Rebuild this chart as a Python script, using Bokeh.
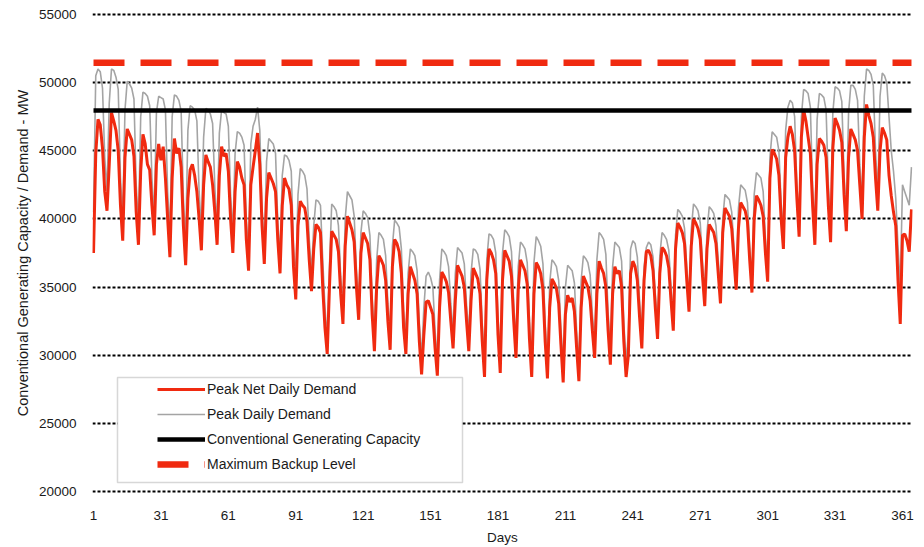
from bokeh.plotting import figure
from bokeh.models import FixedTicker, Legend, LegendItem, BoxAnnotation, Range1d
from bokeh.embed import file_html
from bokeh.resources import INLINE

# ---------------- data ----------------
days = list(range(1, 366))

# Peak net daily demand (MW), one row per week (Mon..Sun)
net_demand = [
    37500, 44800, 47300, 46900, 45200, 42000, 40600,
    44000, 47800, 47200, 46500, 45000, 41000, 38400,
    44500, 46600, 46200, 45800, 44600, 40500, 38100,
    43500, 46200, 45500, 44000, 43600, 41000, 38800,
    44000, 45500, 44300, 45300, 43000, 40000, 37200,
    43000, 45900, 44800, 45200, 43800, 39500, 36600,
    41500, 43600, 44000, 43200, 42000, 40000, 37700,
    42500, 44700, 44200, 43800, 42500, 40500, 38100,
    43200, 45300, 44600, 44800, 43500, 40000, 37500,
    42000, 44200, 43800, 43000, 42500, 38500, 36200,
    42500, 43800, 45000, 46300, 44000, 39500, 36700,
    41500, 43400, 43000, 42600, 42000, 38500, 36000,
    41000, 43000, 42500, 42200, 41000, 36500, 34100,
    39500, 41300, 41000, 40800, 39800, 37000, 34700,
    37800, 39600, 39400, 39000, 35000, 32000, 30100,
    35000, 39100, 38800, 38500, 37600, 34500, 32300,
    38000, 40200, 39700, 39200, 38300, 35000, 32600,
    37500, 39000, 38600, 38200, 37000, 33000, 30300,
    35000, 37300, 37000, 36600, 35500, 32500, 30400,
    36500, 38500, 38200, 37600, 36000, 32000, 30100,
    34500, 36500, 36000, 35500, 34500, 31000, 28600,
    31500, 33900, 34000, 33500, 33000, 30500, 28500,
    33500, 36100, 35800, 35400, 34600, 32500, 30500,
    34000, 36600, 36200, 35800, 35000, 32500, 30300,
    34000, 36400, 36000, 35600, 34500, 31000, 28400,
    35500, 37800, 37500, 37000, 36000, 31500, 28700,
    35500, 37700, 37300, 36900, 35800, 32500, 29800,
    34800, 37000, 36600, 36200, 35200, 31200, 28400,
    34500, 36800, 36500, 36000, 34800, 31000, 28300,
    33500, 35600, 35300, 34900, 33800, 30800, 28000,
    33000, 34400, 33900, 34200, 33200, 30500, 28100,
    33500, 35800, 35400, 35000, 34000, 31800, 29800,
    34500, 36900, 36400, 36000, 35000, 31800, 29300,
    34500, 36500, 36000, 36200, 35000, 31000, 28400,
    30000, 36000, 36900, 36500, 35500, 32800, 30500,
    35500, 37600, 37700, 37300, 36200, 33500, 31200,
    36000, 37900, 37700, 37300, 36400, 34000, 31800,
    37800, 39700, 39400, 39000, 38200, 35500, 33200,
    38000, 40000, 39700, 39300, 38500, 35800, 33600,
    37800, 39600, 39300, 39000, 38200, 36000, 33800,
    39000, 40800, 40500, 40200, 39300, 37000, 34800,
    39300, 41200, 40900, 40600, 39800, 37000, 34600,
    40000, 41700, 41400, 41000, 40200, 37500, 35400,
    43000, 45100, 44800, 44400, 43200, 40000, 37800,
    44500, 46000, 46800, 46200, 45000, 41500, 38700,
    46000, 48000, 47200, 46000, 44800, 41000, 38100,
    44000, 45900, 45700, 45400, 44500, 41000, 38300,
    45200, 47400, 47000, 46500, 45600, 41800, 39100,
    44500, 46600, 46200, 45800, 45000, 42500, 40000,
    46000, 48400, 47600, 47000, 46000, 43000, 40600,
    45000, 46700, 46300, 45800, 43200, 41700, 40500,
    39500, 35500, 32300, 38800, 38900, 38400, 37600,
    40700,
]

# Peak daily demand (MW)
gross_demand = [
    40500, 50500, 51000, 50800, 49600, 44500, 42000,
    48500, 51000, 50900, 50400, 49500, 43000, 40000,
    48000, 50100, 49900, 49600, 48800, 42500, 39500,
    47500, 49300, 49200, 49000, 48300, 43000, 40200,
    47800, 49000, 48900, 48800, 48000, 42000, 38800,
    47500, 49100, 49000, 48700, 47900, 41500, 38200,
    46500, 48300, 48200, 48000, 47200, 42000, 39200,
    46000, 48100, 48000, 47700, 47000, 42300, 39500,
    46300, 48000, 47800, 47700, 46800, 41800, 38900,
    44800, 46400, 46300, 46000, 45400, 40000, 37500,
    45500, 46800, 47300, 48200, 46500, 40800, 38000,
    44200, 45900, 45700, 45500, 44800, 39800, 37300,
    43200, 44700, 44600, 44300, 43500, 38000, 35500,
    41800, 43700, 43500, 43200, 42200, 38500, 36000,
    39500, 41400, 41300, 41000, 37000, 33500, 31300,
    36500, 41100, 40900, 40600, 39500, 35800, 33500,
    40000, 42000, 41700, 41400, 40200, 36300, 33800,
    39000, 40600, 40400, 40100, 38800, 34200, 31500,
    37000, 39000, 38800, 38500, 37300, 33800, 31600,
    38000, 39900, 39700, 39400, 37800, 33300, 31300,
    36000, 37800, 37600, 37300, 36200, 32300, 29800,
    33500, 35800, 36100, 35700, 35000, 31800, 29700,
    35500, 37800, 37600, 37300, 36500, 33800, 31700,
    36000, 37900, 37700, 37500, 36700, 33700, 31500,
    36000, 37800, 37700, 37400, 36300, 32300, 29600,
    37000, 38900, 38800, 38500, 37500, 32800, 29900,
    37500, 39200, 39000, 38700, 37600, 33800, 31000,
    36500, 38300, 38100, 37800, 36800, 32500, 29600,
    36800, 38700, 38400, 38000, 36700, 32300, 29500,
    35300, 37000, 36800, 36500, 35500, 32000, 29200,
    35000, 36600, 36400, 36200, 35300, 31800, 29300,
    35500, 37300, 37100, 36800, 35900, 33000, 31000,
    37000, 39000, 38800, 38500, 37400, 33100, 30500,
    36500, 38300, 38100, 37900, 36900, 32300, 29600,
    31500, 37800, 38400, 38200, 37200, 34000, 31700,
    36500, 37900, 38300, 38100, 37200, 34500, 32300,
    37300, 39000, 38800, 38500, 37700, 35000, 32800,
    38800, 40700, 40500, 40200, 39300, 36500, 34200,
    39200, 41100, 40900, 40600, 39700, 36800, 34600,
    39000, 40900, 40700, 40400, 39500, 37000, 34800,
    40000, 41800, 41600, 41400, 40500, 38000, 35800,
    40800, 42500, 42300, 42100, 41200, 38000, 35600,
    41800, 43400, 43200, 43000, 42000, 38600, 36400,
    44500, 46400, 46200, 46000, 45000, 41200, 39000,
    46500, 48200, 48700, 48500, 47500, 42500, 39800,
    47500, 49500, 49400, 49200, 48200, 42300, 39300,
    47300, 49200, 49100, 48900, 48000, 42500, 39500,
    47800, 49700, 49600, 49400, 48600, 43200, 40300,
    47800, 49800, 49800, 49500, 48700, 44000, 41200,
    49000, 51000, 50900, 50600, 49800, 45000, 41800,
    49000, 50700, 50500, 50000, 47500, 45000, 43500,
    41500, 38000, 35000, 42500, 42000, 41500, 41000,
    43800,
]

conventional_capacity = 47950
max_backup_level = 51450

x_ticks = [1, 31, 61, 91, 121, 151, 181, 211, 241, 271, 301, 331, 361]
y_ticks = [20000, 25000, 30000, 35000, 40000, 45000, 50000, 55000]

series_labels = [
    "Peak Net Daily Demand",
    "Peak Daily Demand",
    "Conventional Generating Capacity",
    "Maximum Backup Level",
]

# ---------------- styling ----------------
FONT = "Liberation Sans"
RED = "#f02a10"
GREY = "#a4a4a4"

p = figure(
    width=924, height=547,
    output_backend="svg", toolbar_location=None,
    x_range=Range1d(0.55, 365.45), y_range=Range1d(19854.5, 55145.5),
    min_border_left=92, min_border_right=12, min_border_top=12, min_border_bottom=50,
)
p.outline_line_color = None
p.background_fill_color = "white"
p.border_fill_color = "white"

r_grey = p.line(days, gross_demand, line_color=GREY, line_width=1.6)
r_red = p.line(days, net_demand, line_color=RED, line_width=3)
r_cap = p.line([days[0], days[-1]], [conventional_capacity, conventional_capacity],
               line_color="black", line_width=4.5)
r_backup = p.line([days[0], days[-1]], [max_backup_level, max_backup_level],
                  line_color=RED, line_width=6.5, line_dash="31 16")

# axes
p.xaxis.ticker = FixedTicker(ticks=x_ticks)
p.yaxis.ticker = FixedTicker(ticks=y_ticks)
p.xgrid.visible = False
p.ygrid.grid_line_color = "black"
p.ygrid.grid_line_dash = "3 2"
p.ygrid.grid_line_width = 2.2

for ax in (p.xaxis[0], p.yaxis[0]):
    ax.axis_line_color = None
    ax.major_tick_line_color = None
    ax.minor_tick_line_color = None
    ax.major_label_text_font = FONT
    ax.major_label_text_font_size = "13.5px"
    ax.major_label_text_color = "#1a1a1a"
    ax.axis_label_text_font = FONT
    ax.axis_label_text_font_style = "normal"
    ax.axis_label_text_color = "#1a1a1a"

p.yaxis.major_label_standoff = 10
p.xaxis.major_label_standoff = 11
p.yaxis.axis_label = "Conventional Generating Capacity / Demand - MW"
p.yaxis.axis_label_text_font_size = "14.5px"
p.yaxis.axis_label_standoff = 5
p.xaxis.axis_label = "Days"
p.xaxis.axis_label_text_font_size = "13.5px"
p.xaxis.axis_label_standoff = 7

# legend frame (white box with grey border)
legend_box = BoxAnnotation(left=11.67, right=165.2, bottom=20655, top=28368,
                           fill_color="white", fill_alpha=1.0,
                           line_color="#7a7a7a", line_width=1.5, level="guide")
p.add_layout(legend_box)

legend = Legend(
    items=[
        LegendItem(label=series_labels[0], renderers=[r_red]),
        LegendItem(label=series_labels[1], renderers=[r_grey]),
        LegendItem(label=series_labels[2], renderers=[r_cap]),
        LegendItem(label=series_labels[3], renderers=[r_backup]),
    ],
    location=(65, 19), padding=0, margin=0, spacing=5,
    glyph_width=48, glyph_height=20, label_height=20, label_standoff=2,
    label_text_font=FONT, label_text_font_size="14px", label_text_color="#1a1a1a",
    border_line_alpha=0, background_fill_alpha=0,
)
p.add_layout(legend)

open("out.html", "w").write(file_html(p, INLINE))
